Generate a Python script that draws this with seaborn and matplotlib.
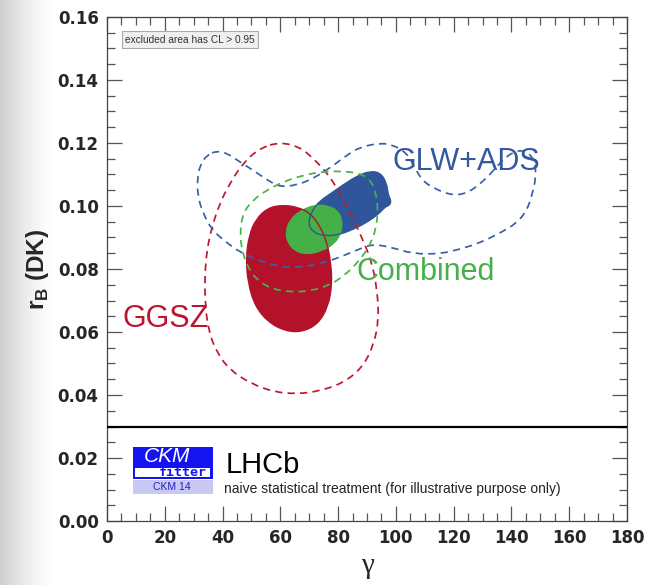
import numpy as np
import matplotlib
matplotlib.use("Agg")
import matplotlib.pyplot as plt
from matplotlib.path import Path
from matplotlib.patches import PathPatch, Rectangle
from matplotlib.ticker import MultipleLocator, FormatStrFormatter
import seaborn as sns

# ---------------------------------------------------------------------------
# Confidence-region outlines in the (gamma [deg], r_B) plane
# ---------------------------------------------------------------------------
# GGSZ, 95% CL (dashed)
ggsz95_gamma = [59.9, 66.8, 71.3, 76.2, 80.0, 84.1, 88.3, 91.7, 93.5, 94.1, 92.4,
                88.3, 81.7, 73.7, 65.8, 57.5, 49.5, 42.6, 38.1, 35.0, 33.9, 33.9,
                34.6, 36.3, 39.1, 42.6, 47.1, 53.0]
ggsz95_rb = [0.1203, 0.1187, 0.1152, 0.1105, 0.1051, 0.0981, 0.0898, 0.0822,
             0.0733, 0.0644, 0.0559, 0.0486, 0.0438, 0.0413, 0.0403, 0.0410,
             0.0438, 0.0479, 0.0533, 0.0606, 0.0702, 0.0787, 0.0860, 0.0933,
             0.1010, 0.1073, 0.1137, 0.1184]

# GGSZ, 68% CL (filled)
ggsz68_gamma = [60.6, 65.8, 70.3, 73.7, 76.2, 77.5, 77.9, 76.5, 73.0, 67.5, 61.6,
                55.7, 51.2, 48.8, 48.1, 49.2, 51.6, 55.7]
ggsz68_rb = [0.1003, 0.0997, 0.0978, 0.0937, 0.0883, 0.0819, 0.0749, 0.0679,
             0.0625, 0.0600, 0.0603, 0.0632, 0.0683, 0.0756, 0.0835, 0.0908,
             0.0959, 0.0994]

# GLW+ADS, 95% CL (dashed)
glwads95_gamma = [38.1, 41.5, 46.0, 50.5, 55.4, 59.9, 65.8, 70.3, 76.2, 83.1, 87.6,
                  94.5, 99.0, 103.8, 106.6, 109.0, 112.8, 119.8, 125.6, 131.5,
                  136.0, 140.2, 144.7, 148.1, 148.5, 147.1, 145.4, 141.9, 136.0,
                  129.1, 122.2, 115.3, 105.9, 98.0, 91.7, 86.5, 80.7, 74.8, 67.8,
                  59.9, 51.9, 46.0, 41.5, 36.3, 33.2, 31.5, 31.2, 32.2, 34.6]
glwads95_rb = [0.1175, 0.1168, 0.1140, 0.1114, 0.1083, 0.1060, 0.1067, 0.1083,
               0.1114, 0.1162, 0.1187, 0.1200, 0.1194, 0.1168, 0.1121, 0.1083,
               0.1057, 0.1032, 0.1044, 0.1089, 0.1137, 0.1171, 0.1178, 0.1146,
               0.1089, 0.1035, 0.0987, 0.0946, 0.0914, 0.0883, 0.0863, 0.0848,
               0.0848, 0.0870, 0.0879, 0.0860, 0.0838, 0.0819, 0.0806, 0.0806,
               0.0829, 0.0854, 0.0883, 0.0924, 0.0978, 0.1029, 0.1083, 0.1130,
               0.1162]

# GLW+ADS, 68% CL (filled)
glwads68_gamma = [69.6, 71.0, 73.7, 77.2, 81.7, 86.5, 91.0, 94.8, 96.9, 97.3, 98.3,
                  98.0, 96.2, 94.1, 89.6, 84.8, 80.0, 75.1, 71.3]
glwads68_rb = [0.0943, 0.0987, 0.1016, 0.1038, 0.1067, 0.1095, 0.1111, 0.1105,
               0.1070, 0.1035, 0.1019, 0.1003, 0.0997, 0.0975, 0.0946, 0.0924,
               0.0908, 0.0905, 0.0917]

# Combined, 95% CL (dashed)
comb95_gamma = [47.1, 50.5, 55.4, 60.9, 66.8, 73.7, 80.7, 86.9, 91.0, 93.1, 93.8,
                93.1, 90.7, 86.9, 82.4, 77.2, 70.3, 63.3, 57.1, 52.3, 48.8, 46.7,
                46.0]
comb95_rb = [0.0978, 0.1019, 0.1051, 0.1076, 0.1095, 0.1108, 0.1111, 0.1105,
             0.1086, 0.1044, 0.0987, 0.0924, 0.0870, 0.0822, 0.0781, 0.0749,
             0.0730, 0.0727, 0.0737, 0.0762, 0.0803, 0.0860, 0.0917]

# Combined, 68% CL (filled)
comb68_gamma = [66.8, 72.0, 76.5, 80.0, 81.7, 81.3, 78.9, 74.8, 69.6, 65.1, 62.3,
                61.6, 63.3]
comb68_rb = [0.0987, 0.1006, 0.1003, 0.0987, 0.0956, 0.0914, 0.0879, 0.0857,
             0.0844, 0.0854, 0.0883, 0.0921, 0.0959]

# Axis ranges and ticks
gamma_range = (0, 180)
rb_range = (0.0, 0.16)
gamma_ticks = [0, 20, 40, 60, 80, 100, 120, 140, 160, 180]
rb_ticks = [0.00, 0.02, 0.04, 0.06, 0.08, 0.10, 0.12, 0.14, 0.16]
rb_separator = 0.03

RED = "#B3122A"
BLUE = "#2F569B"
GREEN = "#45AF48"

sns.set_theme(style="ticks")
plt.rcParams["font.family"] = ["Liberation Sans", "DejaVu Sans"]
plt.rcParams["mathtext.fontset"] = "custom"
plt.rcParams["mathtext.bf"] = "Liberation Sans:bold"
plt.rcParams["mathtext.rm"] = "Liberation Sans:bold"


def closed_curve(xs, ys):
    """Smooth closed path (quadratic B-spline) with the points as control polygon."""
    pts = np.column_stack([xs, ys])
    mids = (pts + np.roll(pts, -1, axis=0)) / 2.0
    verts = [mids[-1]]
    codes = [Path.MOVETO]
    for p, m in zip(pts, mids):
        verts += [p, m]
        codes += [Path.CURVE3, Path.CURVE3]
    return Path(verts, codes)


fig = plt.figure(figsize=(6.45, 5.85), dpi=100)

# soft grey shading along the left edge of the page
bg = fig.add_axes([0, 0, 1, 1], zorder=-10)
xx = np.linspace(0, 645, 645)
shade = 1.0 - 0.19 * np.clip(1 - xx / 55.0, 0, 1) ** 1.4
bg.imshow(np.tile(shade, (10, 1)), cmap="gray", vmin=0, vmax=1,
          aspect="auto", extent=[0, 1, 0, 1])
bg.set_axis_off()

ax = fig.add_axes([107 / 645, 64 / 585, 520 / 645, 504 / 585])
ax.set_facecolor("white")
ax.set_xlim(*gamma_range)
ax.set_ylim(*rb_range)

# filled 68% regions
ax.add_patch(PathPatch(closed_curve(glwads68_gamma, glwads68_rb),
                       facecolor=BLUE, edgecolor="none", zorder=2))
ax.add_patch(PathPatch(closed_curve(ggsz68_gamma, ggsz68_rb),
                       facecolor=RED, edgecolor="none", zorder=2.1))
ax.add_patch(PathPatch(closed_curve(comb68_gamma, comb68_rb),
                       facecolor=GREEN, edgecolor="none", zorder=2.2))
# contour edges of the individual measurements stay visible on top
ax.add_patch(PathPatch(closed_curve(ggsz68_gamma, ggsz68_rb),
                       facecolor="none", edgecolor=RED, lw=1.0, zorder=2.3))
ax.add_patch(PathPatch(closed_curve(glwads68_gamma, glwads68_rb),
                       facecolor="none", edgecolor=BLUE, lw=1.0, zorder=2.3))

# dashed 95% contours
dash = (0, (4.2, 3.0))
for gx, ry, col in [(ggsz95_gamma, ggsz95_rb, "#C0182F"),
                    (glwads95_gamma, glwads95_rb, "#3A60A8"),
                    (comb95_gamma, comb95_rb, "#46B34B")]:
    ax.add_patch(PathPatch(closed_curve(gx, ry), facecolor="none",
                           edgecolor=col, lw=1.25, linestyle=dash, zorder=3))

# separator above the legend area
ax.axhline(rb_separator, color="black", lw=1.6, zorder=4)

# labels of the regions
ax.text(99.0, 0.1114, "GLW+ADS", color="#3358A0", fontsize=22, zorder=5)
ax.text(86.2, 0.0765, "Combined", color="#45B04A", fontsize=22, zorder=5)
ax.text(5.2, 0.0616, "GGSZ", color="#BE1430", fontsize=22, zorder=5)

ax.text(0.035, 0.955, "excluded area has CL > 0.95", transform=ax.transAxes,
        fontsize=7.3, color="#333333", va="center", ha="left", zorder=6,
        bbox=dict(boxstyle="square,pad=0.35", facecolor="#f0f0f0",
                  edgecolor="#aaaaaa", lw=0.8))

# CKMfitter logo block
T = ax.transAxes
ax.add_patch(Rectangle((0.05, 0.0827), 0.1538, 0.0647, transform=T,
                       facecolor="#1414F0", edgecolor="none", zorder=6))
ax.add_patch(Rectangle((0.0538, 0.0879), 0.144, 0.0179, transform=T,
                       facecolor="white", edgecolor="none", zorder=6.1))
ax.add_patch(Rectangle((0.05, 0.053), 0.1538, 0.0283, transform=T,
                       facecolor="#C8C8F2", edgecolor="none", zorder=6))
ax.text(0.1148, 0.128, "CKM", transform=T, color="white", fontsize=15,
        style="italic", ha="center", va="center", zorder=7)
ax.text(0.146, 0.0965, "fitter", transform=T, color="#1414F0",
        fontsize=9.5, family="DejaVu Sans Mono", weight="bold",
        ha="center", va="center", zorder=7)
ax.text(0.125, 0.0665, "CKM 14", transform=T, color="#2020C0", fontsize=7.5,
        ha="center", va="center", zorder=7)
ax.text(0.2288, 0.0952, "LHCb", transform=T, color="black", fontsize=21,
        ha="left", va="baseline", zorder=7)
ax.text(0.225, 0.0635, "naive statistical treatment (for illustrative purpose only)",
        transform=T, color="#222222", fontsize=10, ha="left", va="center", zorder=7)

# axes, ticks, labels
ax.set_xticks(gamma_ticks)
ax.set_yticks(rb_ticks)
ax.xaxis.set_minor_locator(MultipleLocator(5))
ax.yaxis.set_minor_locator(MultipleLocator(0.005))
ax.yaxis.set_major_formatter(FormatStrFormatter("%.2f"))
ax.tick_params(which="both", direction="in", top=True, right=True,
               color="#555555", width=0.9)
ax.tick_params(which="major", length=11)
ax.tick_params(which="minor", length=5.5)
ax.tick_params(axis="both", labelsize=12, pad=6)
for lab in ax.get_xticklabels() + ax.get_yticklabels():
    lab.set_family("DejaVu Sans")
    lab.set_weight("bold")
for sp in ax.spines.values():
    sp.set_color("#444444")
    sp.set_linewidth(0.9)

ax.set_xlabel("\u03b3", family="Liberation Serif", fontsize=21, labelpad=4)
ax.set_ylabel(r"r$_\mathbf{B}$ (DK)", fontsize=17.5, weight="bold", labelpad=5)

fig.savefig("out.png", dpi=100)
